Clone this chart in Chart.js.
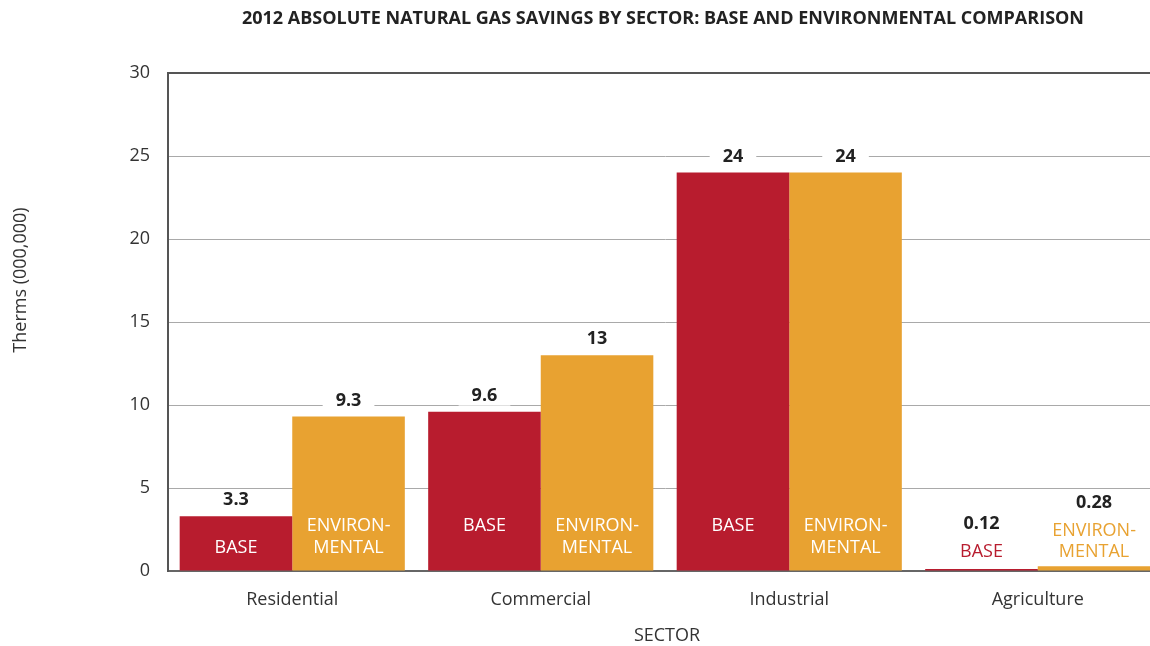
<!DOCTYPE html>
<html>
<head>
<meta charset="utf-8">
<script src="https://cdn.jsdelivr.net/npm/chart.js@4/dist/chart.umd.min.js"></script>
<style>
  html, body { margin: 0; padding: 0; background: #fff; overflow: hidden; }
  #wrap { width: 1180px; height: 646px; }
</style>
</head>
<body>
<div id="wrap"><canvas id="chart" width="1180" height="646"></canvas></div>
<script>
// Savings by sector, therms (000,000)
const sectors = ['Residential', 'Commercial', 'Industrial', 'Agriculture'];
const baseSavings = [3.3, 9.6, 24, 0.12];
const environmentalSavings = [9.3, 13, 24, 0.28];
const seriesNames = [['BASE'], ['ENVIRON-', 'MENTAL']];
const yTickMin = 0, yTickMax = 30, yTickStep = 5;

const chartTitle = '2012 ABSOLUTE NATURAL GAS SAVINGS BY SECTOR: BASE AND ENVIRONMENTAL COMPARISON';
const yTitle = 'Therms (000,000)';
const xTitle = 'SECTOR';

const RED = '#B81C2E';
const ORANGE = '#E8A231';
const FONT = '"Open Sans", "Noto Sans", sans-serif';

// Titles and bar annotations drawn on the canvas
const annotate = {
  id: 'annotate',
  afterDraw(chart) {
    const { ctx, chartArea } = chart;
    const cx = (chartArea.left + chartArea.right) / 2;
    ctx.save();
    ctx.textAlign = 'center';
    ctx.textBaseline = 'middle';

    ctx.fillStyle = '#222';
    ctx.font = 'bold 18px ' + FONT;
    ctx.fillText(chartTitle, cx - 2, 19);

    ctx.fillStyle = '#333';
    ctx.font = '18px ' + FONT;
    ctx.fillText(xTitle, cx + 2, 636);

    ctx.save();
    ctx.translate(21, 280);
    ctx.rotate(-Math.PI / 2);
    ctx.fillText(yTitle, 0, 0);
    ctx.restore();
    ctx.restore();
  },
  afterDatasetsDraw(chart) {
    const { ctx } = chart;
    const zeroY = chart.scales.y.getPixelForValue(0);
    ctx.save();
    ctx.textAlign = 'center';
    ctx.textBaseline = 'middle';
    chart.data.datasets.forEach((ds, di) => {
      const meta = chart.getDatasetMeta(di);
      const lines = seriesNames[di];
      meta.data.forEach((bar, i) => {
        const value = ds.data[i];
        const top = bar.y;
        const x = bar.x;
        const inside = (zeroY - top) > 20;
        let valueY;
        if (inside) {
          // white series name inside the bar, near its base
          ctx.fillStyle = '#fff';
          ctx.font = '18px ' + FONT;
          let lastY = zeroY - 23;
          if (lines.length === 1 && top < zeroY - 60) lastY = zeroY - 45;
          lines.forEach((t, k) => {
            ctx.fillText(t, x, lastY - (lines.length - 1 - k) * 22);
          });
          valueY = top - 16;
        } else {
          // series name in the bar colour above a very short bar
          ctx.fillStyle = ds.backgroundColor;
          ctx.font = '18px ' + FONT;
          const lastY = zeroY - 19;
          lines.forEach((t, k) => {
            ctx.fillText(t, x, lastY - (lines.length - 1 - k) * 21);
          });
          valueY = lastY - (lines.length - 1) * 21 - 28;
        }
        const txt = String(value);
        ctx.font = 'bold 18px ' + FONT;
        const w = ctx.measureText(txt).width + 26;
        ctx.fillStyle = '#fff';
        ctx.fillRect(x - w / 2, valueY - 10, w, 20);
        ctx.fillStyle = '#222';
        ctx.fillText(txt, x, valueY);
      });
    });
    ctx.restore();
  }
};

new Chart(document.getElementById('chart'), {
  type: 'bar',
  data: {
    labels: sectors,
    datasets: [
      { label: 'Base', data: baseSavings, backgroundColor: RED,
        categoryPercentage: 0.906, barPercentage: 1.0 },
      { label: 'Environmental', data: environmentalSavings, backgroundColor: ORANGE,
        categoryPercentage: 0.906, barPercentage: 1.0 }
    ]
  },
  options: {
    responsive: false,
    animation: false,
    devicePixelRatio: 1,
    layout: { padding: { top: 73, right: 18, left: 0, bottom: 0 } },
    plugins: { legend: { display: false }, tooltip: { enabled: false }, title: { display: false } },
    scales: {
      x: {
        grid: { display: false },
        border: { color: '#666', width: 2 },
        ticks: { color: '#333', font: { family: FONT, size: 18 }, padding: 10 },
        afterFit(scale) { scale.height = 75; }
      },
      y: {
        min: yTickMin,
        max: yTickMax,
        ticks: { stepSize: yTickStep, color: '#333', font: { family: FONT, size: 18 }, padding: 18 },
        grid: {
          drawTicks: false,
          color: c => (c.tick && c.tick.value === yTickMax) ? '#555' : '#a9a9a9',
          lineWidth: c => (c.tick && c.tick.value === yTickMax) ? 2 : 1
        },
        border: { color: '#555', width: 2 },
        afterFit(scale) { scale.width = 168; }
      }
    }
  },
  plugins: [annotate]
});
</script>
</body>
</html>
